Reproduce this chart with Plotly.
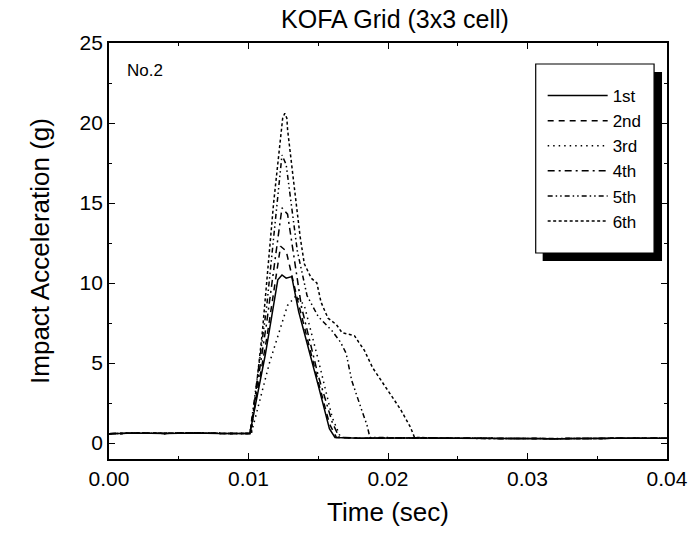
import plotly.graph_objects as go

# ---- data (time in s, acceleration in g) ----
names = ["1st", "2nd", "3rd", "4th", "5th", "6th"]

pre_t = [0.0, 0.002, 0.004, 0.006, 0.008, 0.0100]
pre_v = [0.58, 0.62, 0.60, 0.63, 0.60, 0.61]

post_t = [0.024, 0.028, 0.032, 0.036, 0.040]
post_v = [0.30, 0.28, 0.27, 0.29, 0.30]

t1 = [0.0101, 0.0112, 0.0121, 0.0124, 0.0127, 0.0131, 0.0136, 0.0150, 0.0158, 0.0162, 0.0180, 0.0210]
v1 = [0.6, 5.5, 10.2, 10.5, 10.3, 10.4, 8.2, 3.6, 0.9, 0.35, 0.30, 0.32]

t2 = [0.0101, 0.0113, 0.0123, 0.0127, 0.0135, 0.0148, 0.0158, 0.0163, 0.0180, 0.0210]
v2 = [0.6, 6.5, 12.3, 12.0, 9.0, 4.5, 1.2, 0.35, 0.30, 0.32]

t3 = [0.0102, 0.0115, 0.0128, 0.0134, 0.0140, 0.0150, 0.0160, 0.0166, 0.0180, 0.0210]
v3 = [0.6, 5.0, 8.6, 9.2, 8.6, 5.2, 1.6, 0.35, 0.30, 0.32]

t4 = [0.0101, 0.0113, 0.0124, 0.0128, 0.0138, 0.0150, 0.0160, 0.0165, 0.0180, 0.0210]
v4 = [0.6, 7.5, 14.7, 14.3, 8.5, 4.2, 1.3, 0.35, 0.30, 0.32]

t5 = [0.0101, 0.0113, 0.0124, 0.0127, 0.0135, 0.0142, 0.0150, 0.0160, 0.0166, 0.0170, 0.0174, 0.0181, 0.0185, 0.0187, 0.0210]
v5 = [0.6, 8.5, 18.0, 17.4, 12.0, 9.2, 7.9, 7.0, 6.3, 5.6, 3.9, 2.1, 1.1, 0.35, 0.32]

t6 = [0.0102, 0.0110, 0.0118, 0.01245, 0.0126, 0.01275, 0.0128, 0.0132, 0.0134, 0.0137, 0.0140, 0.0145,
      0.0149, 0.0152, 0.0157, 0.0163, 0.0167, 0.0176, 0.0179, 0.0183, 0.0189, 0.0196, 0.0204, 0.0209,
      0.0216, 0.0219]
v6 = [0.6, 7.0, 15.0, 20.3, 20.6, 20.3, 19.6, 16.6, 15.0, 12.9, 11.2, 10.3,
      10.0, 8.8, 7.8, 7.4, 6.9, 6.7, 6.3, 5.8, 4.7, 3.8, 2.7, 2.1,
      1.0, 0.35]

series_t = [t1, t2, t3, t4, t5, t6]
series_v = [v1, v2, v3, v4, v5, v6]
dashes = ["solid", "6px,5px", "1.5px,4px", "7px,4px,2px,4px", "5px,3px,1.5px,3px,1.5px,3px", "3px,2.5px"]

x_ticks = [0.0, 0.01, 0.02, 0.03, 0.04]
y_ticks = [0, 5, 10, 15, 20, 25]

fig = go.Figure()
for name, t, v, d in zip(names, series_t, series_v, dashes):
    tt = pre_t + t + post_t
    vv = pre_v + v + post_v
    fig.add_trace(go.Scatter(x=tt, y=vv, mode="lines", name=name,
                             line=dict(color="black", width=1.5, dash=d)))

# legend box with shadow (pixel positions converted to paper coords)
L, R, T, B = 109, 670, 43, 459
def px(x): return (x - L) / (R - L)
def py(y): return (B - y) / (B - T)

shapes = [
    dict(type="rect", xref="paper", yref="paper", x0=px(545), x1=px(665), y0=py(261), y1=py(72),
         fillcolor="black", line=dict(width=0), layer="above"),
    dict(type="rect", xref="paper", yref="paper", x0=px(538), x1=px(657), y0=py(253), y1=py(64),
         fillcolor="white", line=dict(color="black", width=1.2), layer="above"),
]

font = "Liberation Sans, Arial, sans-serif"
axis_common = dict(showline=True, linecolor="black", linewidth=1.8, mirror="ticks",
                   ticks="inside", ticklen=6, tickwidth=1.2, tickcolor="black",
                   showgrid=False, zeroline=False,
                   tickfont=dict(size=21, color="black", family=font),
                   minor=dict(ticks="inside", ticklen=3, tickwidth=1, tickcolor="black"))

fig.update_layout(
    width=700, height=539,
    margin=dict(l=L, r=700 - R, t=T, b=539 - B),
    paper_bgcolor="white", plot_bgcolor="white",
    font=dict(family=font, color="black"),
    title=dict(text="KOFA Grid (3x3 cell)", x=395 / 700, xanchor="center",
               y=1 - 19 / 539, yanchor="middle", font=dict(size=25, family=font)),
    xaxis=dict(range=[0, 0.04], tickvals=x_ticks, tickformat=".2f",
               title=dict(text="Time (sec)", font=dict(size=26, family=font), standoff=14),
               minor_dtick=0.005, **axis_common),
    yaxis=dict(range=[-1, 25], tickvals=y_ticks,
               title=dict(text="Impact Acceleration (g)", font=dict(size=26, family=font), standoff=22),
               minor_dtick=2.5, **axis_common),
    showlegend=True,
    legend=dict(x=px(545), y=py(78), xanchor="left", yanchor="top",
                bgcolor="rgba(0,0,0,0)", borderwidth=0,
                font=dict(size=17, family=font, color="black"), itemwidth=60),
    shapes=shapes,
    annotations=[dict(text="No.2", xref="paper", yref="paper", x=px(125), y=py(70),
                      xanchor="left", yanchor="middle", showarrow=False,
                      font=dict(size=17, family=font, color="black"))],
)

fig.write_html("out.html")
